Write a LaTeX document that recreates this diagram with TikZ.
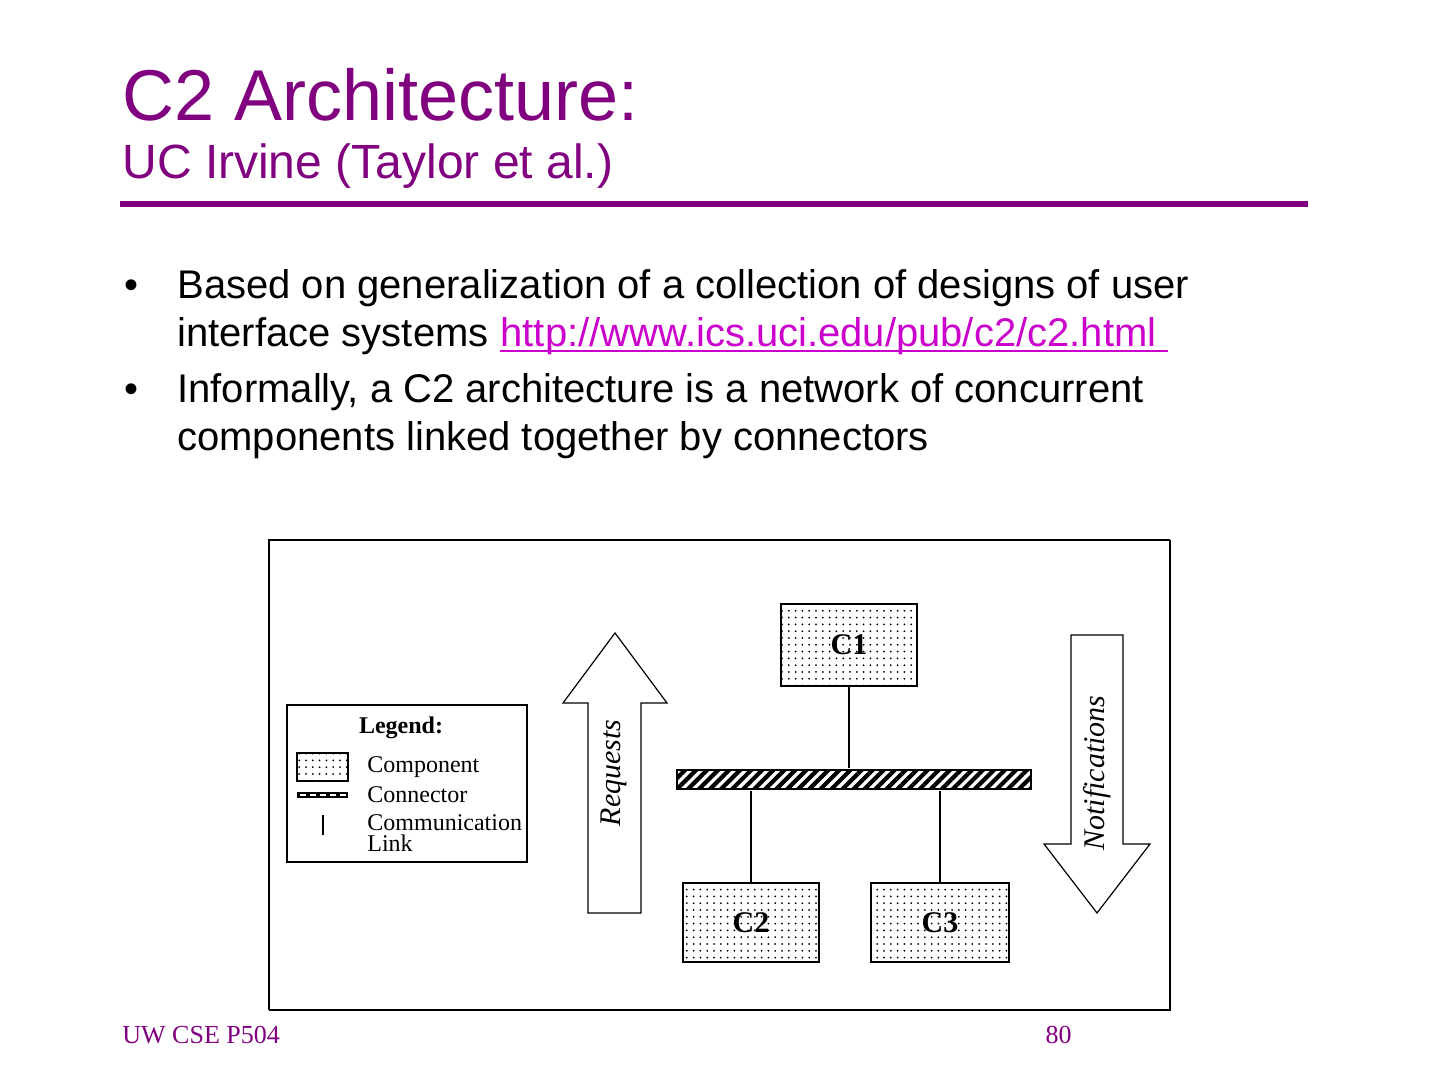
\documentclass[tikz,border=0pt]{standalone}
\usepackage{fontspec}
\setmainfont{Liberation Serif}
\newfontfamily\arialf{Liberation Sans}
\usetikzlibrary{patterns,patterns.meta}
\definecolor{ttl}{HTML}{800080}
\definecolor{lnk}{HTML}{CC00CC}
\tikzset{
  dotfill/.style={pattern={Dots[distance=3.4pt, radius=0.5pt]}, pattern color=black},
  comp/.style={draw=black, line width=0.8pt, dotfill, inner sep=0pt, text=black, font=\fontsize{15}{17}\selectfont\bfseries},
  legtxt/.style={anchor=base west, inner sep=0pt, font=\fontsize{12}{13}\selectfont},
  bodytxt/.style={anchor=base west, inner sep=0pt, font=\arialf\fontsize{20}{24}\selectfont},
  link/.style={draw=black, line width=0.6pt},
  bigarrow/.style={draw=black, line width=0.6pt, fill=white},
  arrowtxt/.style={rotate=90, inner sep=0pt, font=\fontsize{15}{17}\selectfont\itshape}
}
\begin{document}
\begin{tikzpicture}[x=0.5pt,y=-0.5pt]
\useasboundingbox[fill=white] (0,0) rectangle (1440,1080);

% title
\node[anchor=base west, inner sep=0pt, text=ttl, font=\arialf\fontsize{36}{40}\selectfont] (title) at (122,121) {C2 Architecture:};
\node[anchor=base west, inner sep=0pt, text=ttl, font=\arialf\fontsize{24}{28}\selectfont] (subtitle) at (122,179) {UC Irvine (Taylor et al.)};
\draw[ttl, line width=3pt] (120,204) -- (1308,204);

% bullets
\node[bodytxt] (b1) at (124,299) {•};
\node[bodytxt] (l1) at (177,299) {Based on generalization of a collection of designs of user};
\node[bodytxt] (l2) at (177,347) {interface systems\kern5.56pt};
\node[bodytxt, text=lnk] (url) at (l2.base east) {http://www.ics.uci.edu/pub/c2/c2.html\kern5.56pt};
\draw[lnk, line width=1pt] ([yshift=-2.2pt]url.base west) -- ([yshift=-2.2pt]url.base east);
\node[bodytxt] (b2) at (124,403) {•};
\node[bodytxt] (l3) at (177,403) {Informally, a C2 architecture is a network of concurrent};
\node[bodytxt] (l4) at (177,451) {components linked together by connectors};

% figure frame
\draw[line width=0.6pt] (269,1010) -- (269,540) -- (1170,540);
\draw[line width=1.3pt] (269,1010) -- (1170,1010) -- (1170,540);

% legend
\draw[line width=0.8pt] (287,705) rectangle (527,862);
\node[inner sep=0pt, anchor=base, font=\fontsize{12}{13}\selectfont\bfseries] (legend) at (401,733) {Legend:};
\draw[line width=0.7pt, dotfill] (297,753) rectangle (348,781);
\draw[line width=2.6pt] (297,795) -- (348,795);
\draw[white, line width=0.7pt, dash pattern=on 3pt off 2pt] (300,795) -- (346,795);
\draw[line width=0.7pt] (323,815) -- (323,835);
\node[legtxt] (lcomp) at (367,772) {Component};
\node[legtxt] (lconn) at (367,802) {Connector};
\node[legtxt, anchor=north west, align=left, font=\fontsize{12}{10.5}\selectfont] (lcomm) at (367,814) {Communication\\Link};

% components and connector
\node[comp, minimum width=68pt, minimum height=41pt] (c1) at (849,645) {C1};
\node[comp, minimum width=68pt, minimum height=39.5pt] (c2) at (751,922.5) {C2};
\node[comp, minimum width=69pt, minimum height=39.5pt] (c3) at (940,922.5) {C3};
\node[draw=black, line width=0.8pt, inner sep=0pt, minimum width=177pt, minimum height=9.5pt,
      pattern={Lines[angle=45, distance=3.9pt, line width=2.1pt]}, pattern color=black] (bar) at (854,779.5) {};
\draw[link] (c1.south) -- (c1.south |- bar.north);
\draw[link] (c2.north) -- (c2.north |- bar.south);
\draw[link] (c3.north) -- (c3.north |- bar.south);

% big arrows
\draw[bigarrow] (588,913) -- (588,703) -- (563,703) -- (615,633) -- (667,703) -- (641,703) -- (641,913) -- cycle;
\node[arrowtxt] (req) at (614,773) {Requests};
\draw[bigarrow] (1071,635) -- (1071,844) -- (1044,844) -- (1097,913) -- (1150,844) -- (1123,844) -- (1123,635) -- cycle;
\node[arrowtxt] (notif) at (1097,773) {Notifications};

% footer
\node[anchor=base west, inner sep=0pt, text=ttl, font=\fontsize{13}{15}\selectfont] (foot) at (122,1043) {UW CSE P504};
\node[anchor=base east, inner sep=0pt, text=ttl, font=\fontsize{13}{15}\selectfont] (page) at (1072,1043) {80};
\end{tikzpicture}
\end{document}
